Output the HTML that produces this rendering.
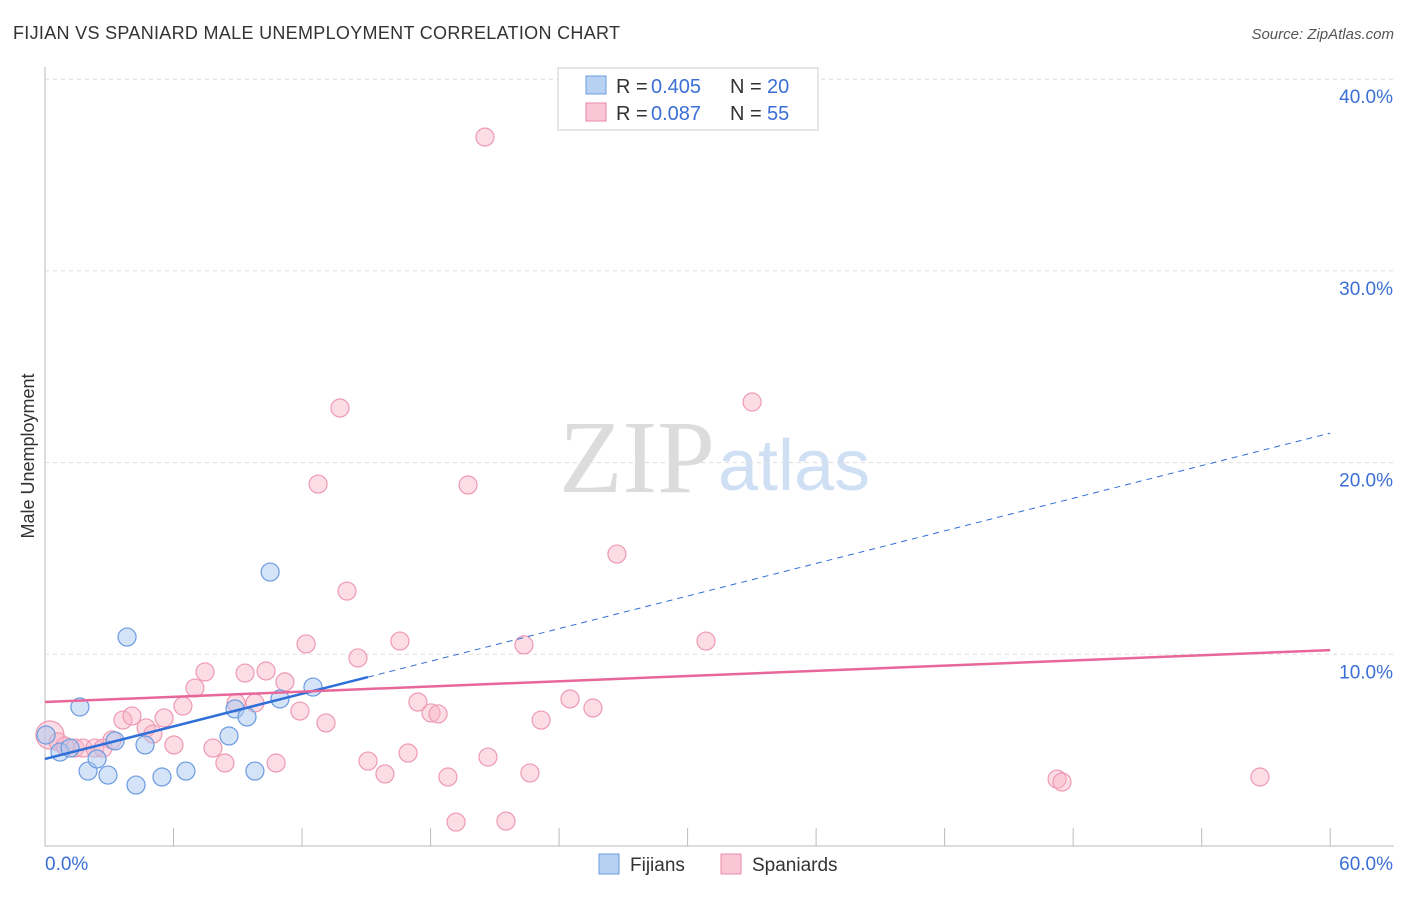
<!DOCTYPE html>
<html><head><meta charset="utf-8"><style>
body{margin:0;background:#fff;font-family:"Liberation Sans",sans-serif}
</style></head><body>
<svg id="c" width="1406" height="892" style="font-family:'Liberation Sans',sans-serif">
<text x="13" y="39" font-size="18" fill="#333" textLength="607">FIJIAN VS SPANIARD MALE UNEMPLOYMENT CORRELATION CHART</text>
<text x="1394" y="39" font-size="15" fill="#555" font-style="italic" text-anchor="end">Source: ZipAtlas.com</text>
<text x="34" y="456" font-size="18" fill="#333" transform="rotate(-90 34 456)" text-anchor="middle">Male Unemployment</text>
<text x="715" y="492" font-size="104" fill="#dcdcdc" font-family="Liberation Serif" text-anchor="end">ZIP</text>
<text x="718" y="490" font-size="72" fill="#d0e0f4">atlas</text>
<g id="grid"></g><g id="marks"></g>
<g>
<rect x="558" y="68" width="260" height="62" fill="#fff" stroke="#ccc"/>
<rect x="586" y="76" width="20" height="18" fill="#b7d1f3" stroke="#6b9be0"/>
<text x="616" y="93" font-size="20" fill="#333">R = </text><text x="651" y="93" font-size="20" fill="#3b6fd6">0.405</text>
<text x="730" y="93" font-size="20" fill="#333">N = </text><text x="767" y="93" font-size="20" fill="#3b6fd6">20</text>
<rect x="586" y="103" width="20" height="18" fill="#f9c6d5" stroke="#ea8aa8"/>
<text x="616" y="120" font-size="20" fill="#333">R = </text><text x="651" y="120" font-size="20" fill="#3b6fd6">0.087</text>
<text x="730" y="120" font-size="20" fill="#333">N = </text><text x="767" y="120" font-size="20" fill="#3b6fd6">55</text>
</g>
<g>
<rect x="599" y="854" width="20" height="20" fill="#b7d1f3" stroke="#6b9be0"/>
<text x="630" y="871" font-size="19" fill="#333">Fijians</text>
<rect x="721" y="854" width="20" height="20" fill="#f9c6d5" stroke="#ea8aa8"/>
<text x="752" y="871" font-size="19" fill="#333">Spaniards</text>
</g>
</svg>
<script>
const xTicks=[0,60];
const yTicks=[10,20,30,40];
const fijX=[0.05,1.63,3.83,2.01,2.94,4.25,5.46,6.58,2.43,3.27,4.67,8.87,8.59,9.43,9.8,10.97,12.51,10.51,0.7,1.17];
const fijY=[5.79,7.25,10.9,3.91,3.7,3.18,3.6,3.91,4.54,5.48,5.27,7.15,5.74,6.73,3.91,7.67,8.29,14.29,4.9,5.11];
const spaX=[0.23,0.61,0.93,1.4,1.77,2.33,2.71,3.13,3.64,4.06,4.72,5.04,5.56,6.02,6.44,7,7.47,7.84,8.4,8.92,9.34,9.8,10.32,10.79,11.2,11.9,12.19,13.12,12.75,13.77,14.1,14.61,15.08,15.87,16.57,16.95,17.41,18.02,18.35,18.81,19.19,19.75,20.54,20.68,21.52,22.36,22.64,23.16,24.51,25.58,26.7,30.86,33.01,47.25,47.48,56.72];
const spaY=[5.79,5.43,5.22,5.11,5.11,5.11,5.11,5.53,6.57,6.78,6.16,5.84,6.68,5.27,7.3,8.24,9.08,5.11,4.33,7.46,9.02,7.46,9.13,4.33,8.56,7.04,10.54,6.42,18.88,22.85,13.3,9.81,4.43,3.76,10.69,4.85,7.51,6.94,6.89,3.6,1.25,18.83,36.98,4.64,1.3,10.49,3.81,6.57,7.67,7.2,15.23,10.69,23.16,3.49,3.34,3.6];
const blueLine=[4.54,21.54], pinkLine=[7.51,10.22];
const X=v=>45+v*21.42, Y=v=>846-v*19.17;
const NS='http://www.w3.org/2000/svg';
function mk(t,a,p){const e=document.createElementNS(NS,t);for(const k in a)e.setAttribute(k,a[k]);p.appendChild(e);return e;}
const g=document.getElementById('grid'), m=document.getElementById('marks');
let ax=mk('line',{x1:45,y1:67,x2:45,y2:846,stroke:'#bbb'},g);


let bx=mk('line',{x1:45,y1:846,x2:1394,y2:846,stroke:'#bbb'},g);


for(let i=0;i<=10;i++){const x=X(i*6);mk('line',{x1:x,y1:828,x2:x,y2:846,stroke:'#bbb'},g);}
yTicks.forEach(v=>{
 const l=mk('line',{x1:45,y1:Y(v),x2:1394,y2:Y(v),stroke:'#ddd','stroke-dasharray':'4,4'},g);
 
 
 const t=mk('text',{x:1393,y:Y(v)+24,'font-size':19,fill:'#3b6fd6','text-anchor':'end'},g);t.textContent=v.toFixed(1)+'%';
 
 
});
xTicks.forEach((v,i)=>{
 const t=mk('text',{x:i?1393:45,y:870,'font-size':19,fill:'#3b6fd6','text-anchor':i?'end':'start'},g);t.textContent=v.toFixed(1)+'%';
 
 
});
spaX.forEach((x,i)=>{const c=mk('circle',{cx:X(x),cy:Y(spaY[i]),r:i==0?14:9,fill:'rgba(248,180,200,0.45)',stroke:'#ee99b3','stroke-width':1.2},m);
 
 });
fijX.forEach((x,i)=>{const c=mk('circle',{cx:X(x),cy:Y(fijY[i]),r:9,fill:'rgba(170,200,240,0.5)',stroke:'#6b9be0','stroke-width':1.2},m);
 
 });
const by=x=>blueLine[0]+(blueLine[1]-blueLine[0])*x/60;
let l1=mk('line',{x1:X(0),y1:Y(by(0)),x2:X(15.08),y2:Y(by(15.08)),stroke:'#2f6fd8','stroke-width':2.5},m);


let l2=mk('line',{x1:X(15.08),y1:Y(by(15.08)),x2:X(60),y2:Y(by(60)),stroke:'#2f6fd8','stroke-width':1,'stroke-dasharray':'6,5'},m);


let l3=mk('line',{x1:X(0),y1:Y(pinkLine[0]),x2:X(60),y2:Y(pinkLine[1]),stroke:'#e8679a','stroke-width':2.5},m);


</script>
</body></html>
